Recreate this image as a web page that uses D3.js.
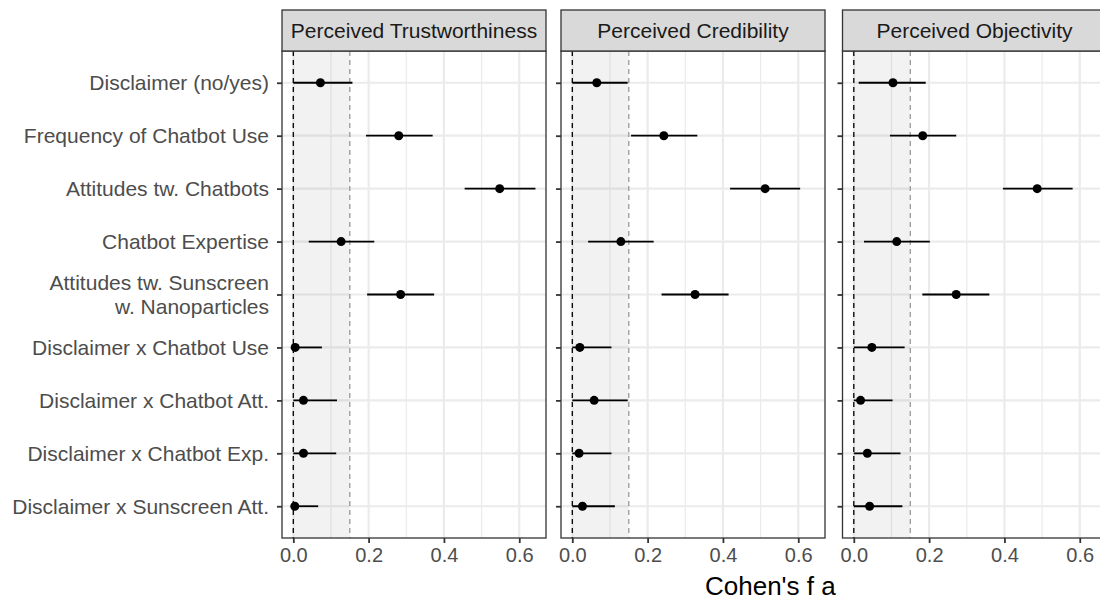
<!DOCTYPE html>
<html>
<head>
<meta charset="utf-8">
<script src="https://cdn.jsdelivr.net/npm/d3@7"></script>
<style>
  body { margin: 0; background: #fff; }
  text { font-family: "Liberation Sans", Arial, sans-serif; }
</style>
</head>
<body>
<div class="chart"></div>
<script>
// Data.
const terms = [
  "Disclaimer (no/yes)",
  "Frequency of Chatbot Use",
  "Attitudes tw. Chatbots",
  "Chatbot Expertise",
  "Attitudes tw. Sunscreen\nw. Nanoparticles",
  "Disclaimer x Chatbot Use",
  "Disclaimer x Chatbot Att.",
  "Disclaimer x Chatbot Exp.",
  "Disclaimer x Sunscreen Att.",
];
const outcomes = ["Perceived Trustworthiness", "Perceived Credibility", "Perceived Objectivity"];

const fTrust  = [0.072, 0.280, 0.548, 0.127, 0.285, 0.005, 0.027, 0.027, 0.004];
const loTrust = [0.000, 0.193, 0.455, 0.041, 0.196, 0.000, 0.000, 0.000, 0.000];
const hiTrust = [0.157, 0.370, 0.643, 0.215, 0.374, 0.076, 0.116, 0.114, 0.066];

const fCred  = [0.065, 0.243, 0.512, 0.129, 0.326, 0.020, 0.058, 0.018, 0.027];
const loCred = [0.000, 0.156, 0.419, 0.042, 0.237, 0.000, 0.000, 0.000, 0.000];
const hiCred = [0.147, 0.332, 0.605, 0.216, 0.415, 0.104, 0.147, 0.104, 0.113];

const fObj  = [0.104, 0.183, 0.487, 0.114, 0.272, 0.048, 0.018, 0.036, 0.042];
const loObj = [0.013, 0.096, 0.396, 0.027, 0.182, 0.000, 0.000, 0.000, 0.000];
const hiObj = [0.191, 0.272, 0.581, 0.202, 0.360, 0.135, 0.103, 0.124, 0.129];

const xTicks = [0, 0.2, 0.4, 0.6];
const xMinor = [0.1, 0.3, 0.5];
const smallEffect = 0.15;

const series = [
  { f: fTrust, lo: loTrust, hi: hiTrust },
  { f: fCred, lo: loCred, hi: hiCred },
  { f: fObj, lo: loObj, hi: hiObj },
];

// Layout.
const W = 1100, H = 600;
const panelLeft = [282, 561, 842.5];
const panelW = 264;
const stripTop = 10, panelTop = 51, panelBottom = 538;
const panelH = panelBottom - panelTop;

const svg = d3.select(".chart").append("svg")
  .attr("width", W).attr("height", H);

const x = d3.scaleLinear().domain([-0.03, 0.671]).range([0, panelW]);
const y = d3.scalePoint().domain(terms).range([0, panelH]).padding(0.6);

outcomes.forEach((name, p) => {
  const s = series[p];
  const rows = terms.map((t, i) => ({ term: t, f: s.f[i], lo: s.lo[i], hi: s.hi[i] }));

  const g = svg.append("g").attr("transform", `translate(${panelLeft[p]},${panelTop})`);

  // grid
  g.append("g").selectAll("line").data(xMinor).enter().append("line")
    .attr("x1", d => x(d)).attr("x2", d => x(d))
    .attr("y1", 0).attr("y2", panelH)
    .attr("stroke", "#ebebeb").attr("stroke-width", 1.2);
  g.append("g").selectAll("line").data(xTicks).enter().append("line")
    .attr("x1", d => x(d)).attr("x2", d => x(d))
    .attr("y1", 0).attr("y2", panelH)
    .attr("stroke", "#ebebeb").attr("stroke-width", 2.2);
  g.append("g").selectAll("line").data(terms).enter().append("line")
    .attr("x1", 0).attr("x2", panelW)
    .attr("y1", d => y(d)).attr("y2", d => y(d))
    .attr("stroke", "#ebebeb").attr("stroke-width", 2.2);

  // small effect band
  g.append("rect")
    .attr("x", x(0)).attr("width", x(smallEffect) - x(0))
    .attr("y", 0).attr("height", panelH)
    .attr("fill", "#000").attr("fill-opacity", 0.05);
  g.append("line")
    .attr("x1", x(0)).attr("x2", x(0)).attr("y1", 0).attr("y2", panelH)
    .attr("stroke", "#000").attr("stroke-width", 1.3).attr("stroke-dasharray", "5,4");
  g.append("line")
    .attr("x1", x(smallEffect)).attr("x2", x(smallEffect)).attr("y1", 0).attr("y2", panelH)
    .attr("stroke", "#999").attr("stroke-width", 1.3).attr("stroke-dasharray", "5,4");

  // intervals + points
  g.append("g").selectAll("line").data(rows).enter().append("line")
    .attr("x1", d => x(d.lo)).attr("x2", d => x(d.hi))
    .attr("y1", d => y(d.term)).attr("y2", d => y(d.term))
    .attr("stroke", "#000").attr("stroke-width", 1.8);
  g.append("g").selectAll("circle").data(rows).enter().append("circle")
    .attr("cx", d => x(d.f)).attr("cy", d => y(d.term))
    .attr("r", 4.5).attr("fill", "#000");

  // border
  g.append("rect").attr("x", 0).attr("y", 0).attr("width", panelW).attr("height", panelH)
    .attr("fill", "none").attr("stroke", "#333").attr("stroke-width", 1.3);

  // strip
  const strip = svg.append("g").attr("transform", `translate(${panelLeft[p]},${stripTop})`);
  strip.append("rect").attr("width", panelW).attr("height", panelTop - stripTop)
    .attr("fill", "#d9d9d9").attr("stroke", "#333").attr("stroke-width", 1.3);
  strip.append("text").attr("x", panelW / 2).attr("y", (panelTop - stripTop) / 2)
    .attr("dy", "0.35em").attr("text-anchor", "middle")
    .attr("font-size", 21).attr("fill", "#1a1a1a").text(name);

  // x axis
  const xAxis = g.append("g").attr("transform", `translate(0,${panelH})`)
    .call(d3.axisBottom(x).tickValues(xTicks).tickFormat(d3.format(".1f")).tickSize(5).tickPadding(5));
  xAxis.select(".domain").remove();
  xAxis.selectAll("line").attr("stroke", "#333").attr("stroke-width", 1.8);
  xAxis.selectAll("text").attr("font-size", 20).attr("fill", "#4d4d4d");

  // y ticks (labels only on the first panel)
  const yAxis = g.append("g")
    .call(d3.axisLeft(y).tickSize(5).tickFormat(""));
  yAxis.select(".domain").remove();
  yAxis.selectAll("line").attr("stroke", "#333").attr("stroke-width", 1.8);
});

// y labels
const yl = svg.append("g").attr("transform", `translate(${panelLeft[0] - 13},${panelTop})`);
terms.forEach((t) => {
  const lines = t.split("\n");
  const txt = yl.append("text").attr("text-anchor", "end")
    .attr("font-size", 21).attr("fill", "#4d4d4d");
  lines.forEach((l, k) => {
    txt.append("tspan").attr("x", 0)
      .attr("y", y(t) + (k - (lines.length - 1) / 2) * 24)
      .attr("dy", "0.35em").text(l);
  });
});

// axis title
svg.append("text").attr("x", 705).attr("y", 595)
  .attr("font-size", 26).attr("fill", "#000").text("Cohen's f a");
</script>
</body>
</html>
